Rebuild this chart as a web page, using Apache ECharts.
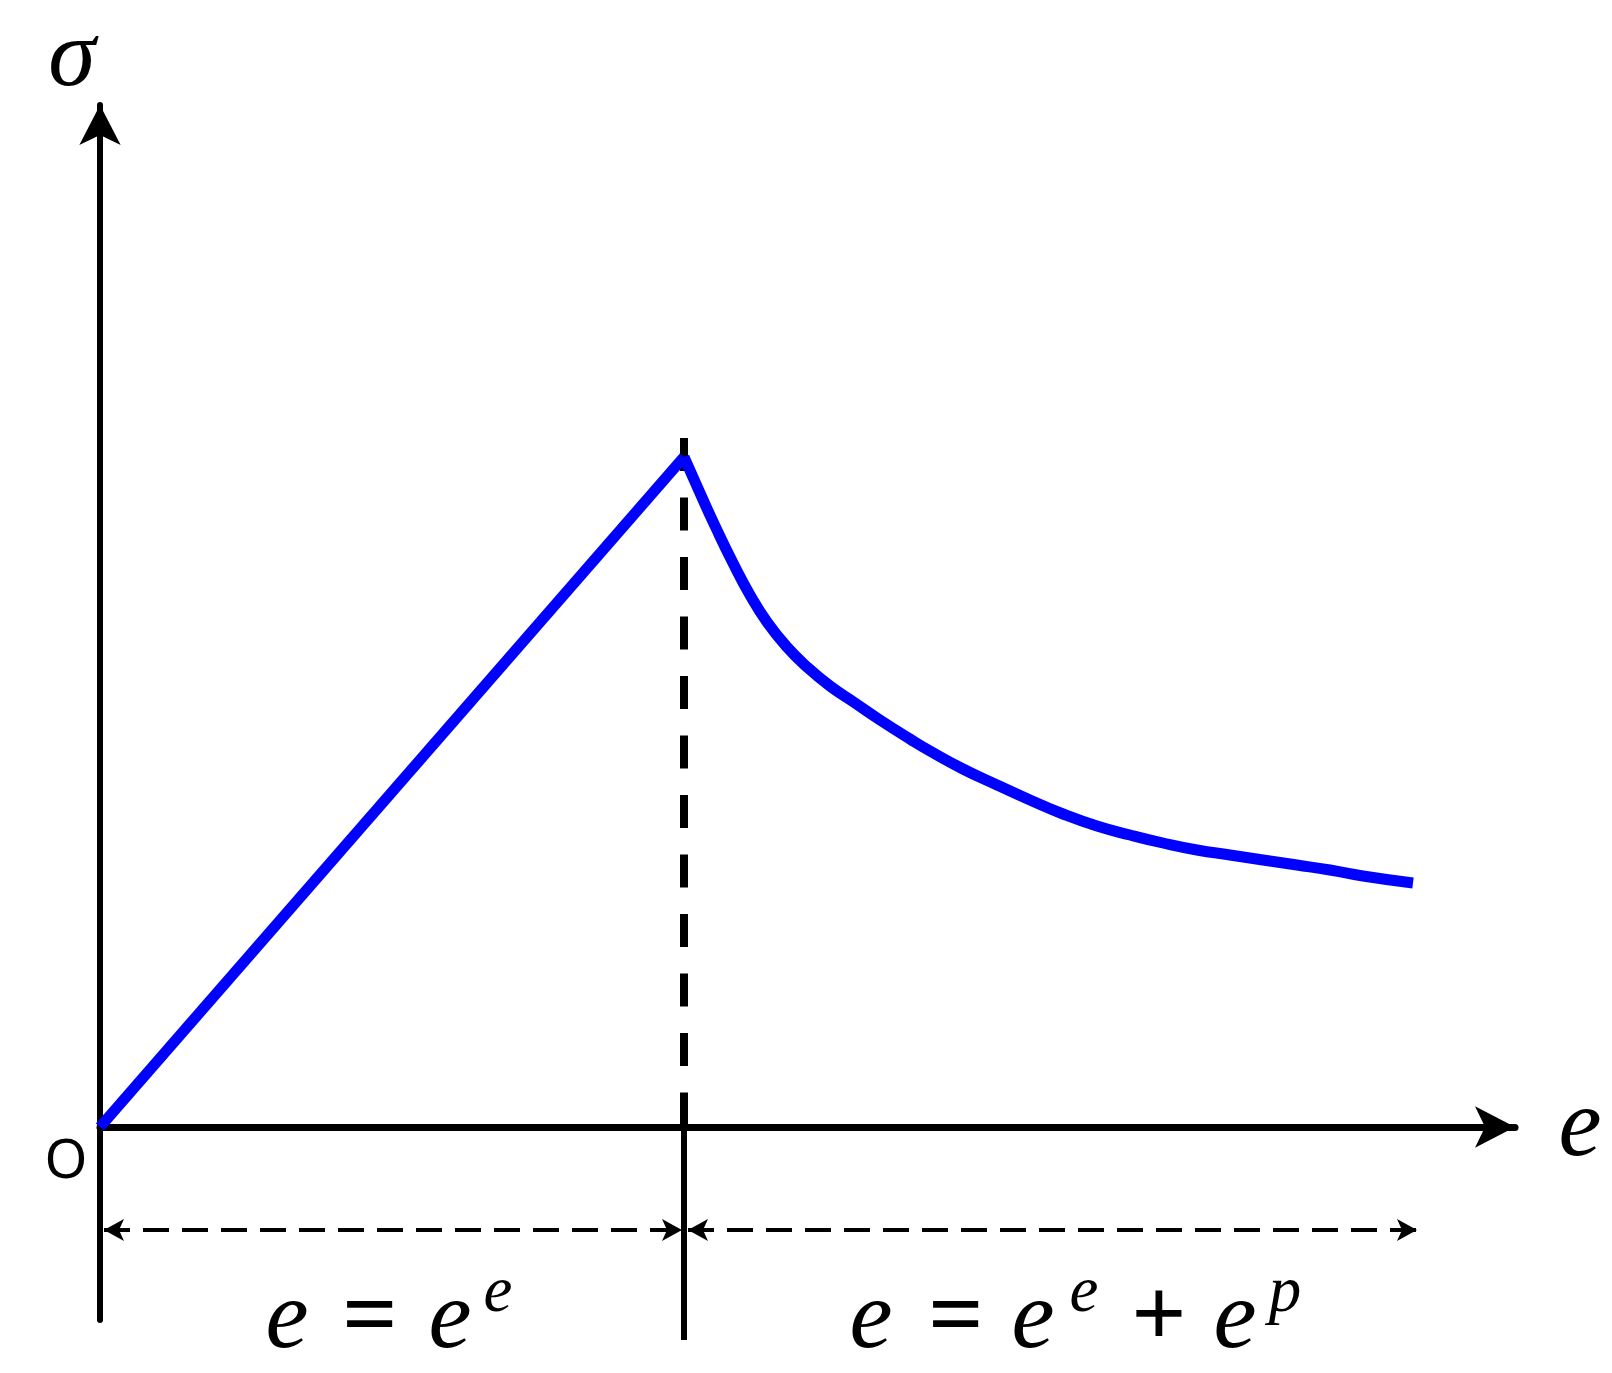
<!DOCTYPE html>
<html>
<head>
<meta charset="utf-8">
<script src="https://cdn.jsdelivr.net/npm/echarts@6/dist/echarts.min.js"></script>
<style>
html,body{margin:0;padding:0;background:#fff;}
#chart{width:1612px;height:1373px;}
</style>
</head>
<body>
<div id="chart"></div>
<script>
// ---- data (strain e, stress sigma; arbitrary units) ----
const riseStrain = [0, 5.84];
const riseStress = [0, 6.70];
const softStrain = [5.84, 6.00, 6.16, 6.33, 6.50, 6.67, 6.87, 7.07, 7.30, 7.55, 7.80, 8.10, 8.30, 8.63, 8.97, 9.30, 9.63, 9.97, 10.30, 10.63, 10.97, 11.30, 11.63, 11.97, 12.30, 12.63, 13.13];
const softStress = [6.70, 6.34, 5.99, 5.64, 5.32, 5.05, 4.80, 4.60, 4.41, 4.24, 4.07, 3.88, 3.76, 3.58, 3.42, 3.27, 3.13, 3.01, 2.92, 2.84, 2.77, 2.72, 2.67, 2.62, 2.57, 2.51, 2.44];
const peakGuideTop = 6.89;      // top of dashed guide at peak
const peakGuideBottom = -2.13;  // bottom of solid guide below axis
const dimLevel = -1.03;         // level of the dimension arrows
const xRange = [0, 14.15];
const yRange = [-1.93, 10.22];

const peakX = riseStrain[1];
const endX = softStrain[softStrain.length - 1];
const arrowInset = 0.04;

const chart = echarts.init(document.getElementById('chart'), null, {renderer: 'canvas'});

const zip = (a, b) => a.map((v, i) => [v, b[i]]);

const serifI = 'italic 97px "Liberation Serif"';
const serifSup = 'italic 65px "Liberation Serif"';
const serifOp = 'bold 97px "Liberation Serif"';
function txt(x, y, text, font) {
  return {type: 'text', x: x, y: y, style: {text: text, font: font, fill: '#000', align: 'center', verticalAlign: 'middle'}};
}

const option = {
  animation: false,
  backgroundColor: '#ffffff',
  grid: {left: 100, top: 105, width: 1415, height: 1215, containLabel: false},
  xAxis: {
    type: 'value', min: xRange[0], max: xRange[1],
    axisLine: {show: true, onZero: true, symbol: ['none', 'arrow'], symbolSize: [31, 40],
      lineStyle: {color: '#000', width: 7}},
    axisTick: {show: false}, axisLabel: {show: false}, splitLine: {show: false}
  },
  yAxis: {
    type: 'value', min: yRange[0], max: yRange[1],
    axisLine: {show: true, onZero: false, symbol: ['none', 'arrow'], symbolSize: [31, 40],
      lineStyle: {color: '#000', width: 6}},
    axisTick: {show: false}, axisLabel: {show: false}, splitLine: {show: false}
  },
  series: [
    {
      type: 'line', name: 'peakGuideDashed', clip: false, silent: true,
      data: [[peakX, peakGuideTop], [peakX, 0]],
      symbol: 'none',
      lineStyle: {color: '#000', width: 8, type: [33, 26.5], cap: 'butt'},
      z: 3
    },
    {
      type: 'line', name: 'peakGuideSolid', clip: false, silent: true,
      data: [[peakX, 0], [peakX, peakGuideBottom]],
      symbol: 'none',
      lineStyle: {color: '#000', width: 6},
      z: 3
    },
    {
      type: 'line', name: 'elastic', clip: false,
      data: zip(riseStrain, riseStress),
      symbol: 'none',
      lineStyle: {color: '#0000ff', width: 11, cap: 'butt'},
      z: 4
    },
    {
      type: 'line', name: 'softening', clip: false,
      data: zip(softStrain, softStress),
      symbol: 'none', smooth: 0.5,
      lineStyle: {color: '#0000ff', width: 11, cap: 'butt', join: 'round'},
      z: 4,
      markLine: {
        silent: true,
        symbol: ['arrow', 'arrow'],
        symbolSize: [16.5, 20],
        label: {show: false},
        lineStyle: {color: '#000', width: 4, type: [26, 13]},
        data: [
          [{coord: [riseStrain[0] + arrowInset, dimLevel]}, {coord: [peakX - arrowInset / 2, dimLevel]}],
          [{coord: [peakX + arrowInset, dimLevel]}, {coord: [endX + arrowInset, dimLevel]}]
        ]
      }
    }
  ],
  graphic: [
    txt(72, 60, 'σ', 'italic 96px "Liberation Serif"'),
    txt(1580, 1129, 'e', serifI),
    {type: 'text', x: 66, y: 1162, style: {text: 'O', font: '55px "Noto Sans"', fill: '#000', align: 'center', verticalAlign: 'middle'}},
    // left equation: e = e^e
    txt(287, 1321, 'e', serifI),
    txt(370, 1321, '=', serifOp),
    txt(450, 1321, 'e', serifI),
    txt(498, 1294, 'e', serifSup),
    // right equation: e = e^e + e^p
    txt(871, 1321, 'e', serifI),
    txt(956, 1321, '=', serifOp),
    txt(1033, 1321, 'e', serifI),
    txt(1084, 1294, 'e', serifSup),
    txt(1159, 1321, '+', serifOp),
    txt(1235, 1321, 'e', serifI),
    txt(1285, 1294, 'p', serifSup)
  ]
};
chart.setOption(option);
</script>
</body>
</html>
